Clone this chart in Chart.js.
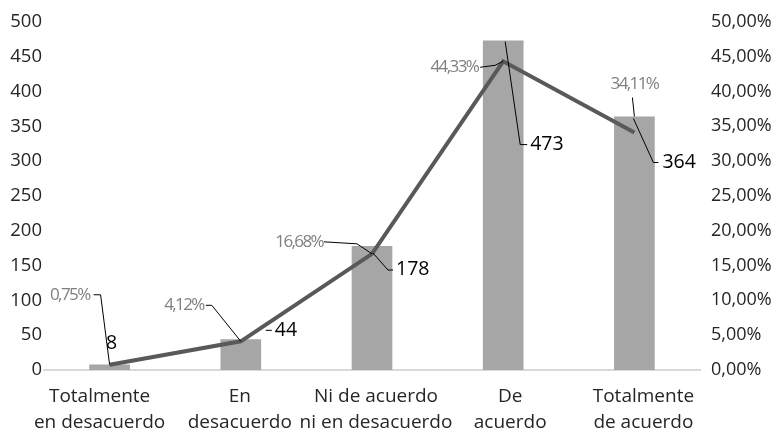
<!DOCTYPE html>
<html>
<head>
<meta charset="utf-8">
<script src="https://cdn.jsdelivr.net/npm/chart.js@4"></script>
<style>
  html, body { margin: 0; padding: 0; background: #fff; }
  #wrap { width: 778px; height: 430px; }
</style>
</head>
<body>
<div id="wrap"><canvas id="grafico" width="778" height="430"></canvas></div>
<script>
// Respuestas por categoría
const categorias = [
    ['Totalmente', 'en desacuerdo'],
    ['En', 'desacuerdo'],
    ['Ni de acuerdo', 'ni en desacuerdo'],
    ['De', 'acuerdo'],
    ['Totalmente', 'de acuerdo']
];
const frecuencias = [8, 44, 178, 473, 364];
const porcentajes = [0.75, 4.12, 16.68, 44.33, 34.11];
const ticksIzq = [0, 50, 100, 150, 200, 250, 300, 350, 400, 450, 500];
const ticksDer = [0, 5, 10, 15, 20, 25, 30, 35, 40, 45, 50];

const FUENTE = '"Open Sans", "Noto Sans", sans-serif';

// Los rótulos de categoría van algo más abiertos que las barras
const desplazCategoria = [-10, -1, 4, 7, 9];

// Posición de cada etiqueta respecto a su marca: texto, alineación y línea guía
const etiquetasPct = [
    { txt: [-20, -70], align: 'right', guia: [[-16, -70], [-9, -70], [0, 0]] },
    { txt: [-37, -36], align: 'right', guia: [[-35, -36], [-29, -36], [0, 0]] },
    { txt: [-49, -12], align: 'right', guia: [[-48, -12], [-15, -10], [0, 0]] },
    { txt: [-25, 6], align: 'right', guia: [[-23, 6], [-8, 4], [0, 0]] },
    { txt: [0, -48], align: 'center', guia: [[-2, -35], [0, -16]] }
];
const etiquetasBarra = [
    { txt: [2, -21], align: 'center', guia: [] },
    { txt: [34, -9], align: 'left', guia: [[25, -9], [31, -9]] },
    { txt: [24, 23], align: 'left', guia: [[1, 7], [16, 24], [21, 24]] },
    { txt: [27, 104], align: 'left', guia: [[2, 1], [17, 104], [24, 104]] },
    { txt: [28, 46], align: 'left', guia: [[-1, 2], [19, 46], [24, 46]] }
];

const fmtPct = v => v.toFixed(2).replace('.', ',') + '%';

const etiquetas = {
    id: 'etiquetas',
    afterDatasetsDraw(chart) {
        const ctx = chart.ctx;
        const x = chart.scales.x, y = chart.scales.y, y1 = chart.scales.y1;
        ctx.save();
        ctx.strokeStyle = '#000';
        ctx.lineWidth = 1;
        ctx.textBaseline = 'middle';

        const dibujar = (cx, cy, e, texto, color, fuente, espaciado) => {
            if (e.guia.length) {
                ctx.beginPath();
                e.guia.forEach((p, k) => {
                    if (k === 0) ctx.moveTo(cx + p[0], cy + p[1]);
                    else ctx.lineTo(cx + p[0], cy + p[1]);
                });
                ctx.stroke();
            }
            ctx.font = fuente;
            ctx.fillStyle = color;
            ctx.textAlign = e.align;
            ctx.letterSpacing = espaciado;
            ctx.fillText(texto, cx + e.txt[0], cy + e.txt[1]);
        };

        frecuencias.forEach((v, i) => {
            const cx = x.getPixelForValue(i);
            dibujar(cx, y.getPixelForValue(v), etiquetasBarra[i], String(v), '#000', '19.5px ' + FUENTE, '0px');
        });
        porcentajes.forEach((v, i) => {
            const cx = x.getPixelForValue(i);
            const cy = i === 4 ? y.getPixelForValue(frecuencias[i]) + 16 : y1.getPixelForValue(v);
            dibujar(cx, cy, etiquetasPct[i], fmtPct(v), '#7f7f7f', '17px ' + FUENTE, '-1.6px');
        });

        // rótulos de categoría en dos líneas
        ctx.letterSpacing = '0px';
        ctx.font = '19px ' + FUENTE;
        ctx.fillStyle = '#262626';
        ctx.textAlign = 'center';
        ctx.textBaseline = 'alphabetic';
        categorias.forEach((lineas, i) => {
            const cx = x.getPixelForValue(i) + desplazCategoria[i];
            lineas.forEach((t, k) => ctx.fillText(t, cx, x.top + 32 + k * 26));
        });
        ctx.restore();
    }
};

new Chart(document.getElementById('grafico'), {
    data: {
        labels: categorias,
        datasets: [
            {
                type: 'line',
                data: porcentajes,
                yAxisID: 'y1',
                borderColor: '#595959',
                borderWidth: 4,
                pointRadius: 0,
                tension: 0,
                order: 0
            },
            {
                type: 'bar',
                data: frecuencias,
                yAxisID: 'y',
                backgroundColor: '#a6a6a7',
                barPercentage: 0.31,
                categoryPercentage: 1,
                order: 1
            }
        ]
    },
    options: {
        responsive: false,
        animation: false,
        layout: { padding: { top: 20, left: 0, right: 0, bottom: 0 } },
        plugins: {
            legend: { display: false },
            tooltip: { enabled: false }
        },
        scales: {
            x: {
                grid: { display: false, drawTicks: false },
                border: { color: '#d9d9d9', width: 2 },
                ticks: { display: false },
                afterFit: s => { s.height = 60; }
            },
            y: {
                position: 'left',
                min: 0, max: 500,
                afterBuildTicks: s => { s.ticks = ticksIzq.map(v => ({ value: v })); },
                grid: { display: false, drawTicks: false },
                border: { display: false },
                ticks: { color: '#262626', font: { family: FUENTE, size: 18.5 }, padding: 2 },
                afterFit: s => { s.width = 44; }
            },
            y1: {
                position: 'right',
                min: 0, max: 50,
                afterBuildTicks: s => { s.ticks = ticksDer.map(v => ({ value: v })); },
                grid: { display: false, drawTicks: false },
                border: { display: false },
                ticks: {
                    color: '#262626',
                    font: { family: FUENTE, size: 18 },
                    padding: 11,
                    callback: v => fmtPct(v)
                },
                afterFit: s => { s.width = 78; }
            }
        }
    },
    plugins: [etiquetas]
});
</script>
</body>
</html>
